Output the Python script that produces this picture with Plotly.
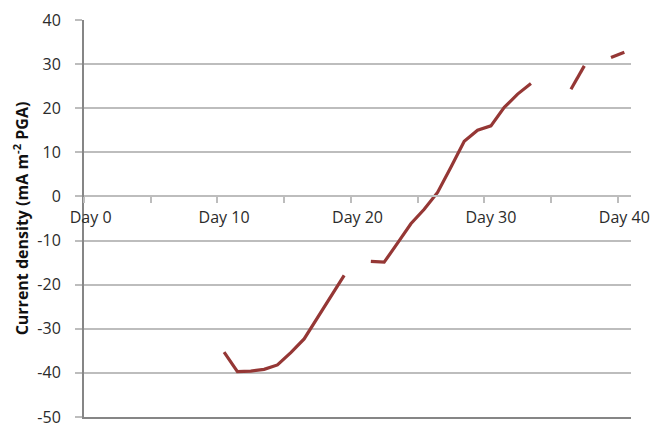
import plotly.graph_objects as go

# Measurement days and current density readings (None = no reading that day)
days = [10, 11, 12, 13, 14, 15, 16, 17, 18, 19,
        20,
        21, 22, 23, 24, 25, 26, 27, 28, 29, 30, 31, 32, 33,
        34, 35,
        36, 37,
        38,
        39, 40]
current_density = [-35.3, -39.7, -39.6, -39.2, -38.2, -35.4, -32.3, -27.4, -22.8, -17.9,
                   None,
                   -14.7, -14.9, -10.6, -6.2, -2.9, 0.9, 6.6, 12.5, 15.0, 16.0, 20.2, 23.2, 25.6,
                   None, None,
                   24.3, 29.6,
                   None,
                   31.5, 32.7]

day_ticks = [0, 10, 20, 30, 40]
day_labels = ["Day 0", "Day 10", "Day 20", "Day 30", "Day 40"]
y_ticks = [40, 30, 20, 10, 0, -10, -20, -30, -40, -50]
y_labels = ["40", "30", "20", "10", "0", "-10", "-20", "-30", "-40", "-50"]

FONT = "Open Sans"
GRID = "#bdbdbd"
AXIS = "#868686"
TEXT = "#2b2b2b"

y_min, y_max = -50, 40
y_range = [y_min, y_max]
x_range = [-0.5, 40.5]

fig = go.Figure()
fig.add_trace(go.Scatter(
    x=days, y=current_density, mode="lines",
    line=dict(color="#953735", width=3.2),
    connectgaps=False, showlegend=False, hoverinfo="skip",
))

fig.update_layout(
    width=654, height=427,
    margin=dict(l=84, r=23, t=20, b=10, autoexpand=False),
    paper_bgcolor="white", plot_bgcolor="white",
    font=dict(family=FONT, size=16, color=TEXT),
    showlegend=False,
    # bottom frame line of the plot area
    xaxis=dict(
        range=x_range, showgrid=False, zeroline=False,
        showticklabels=False, ticks="",
        showline=True, linecolor=AXIS, linewidth=2,
    ),
    # category-style day axis crossing at y = 0
    xaxis2=dict(
        overlaying="x", matches="x", range=x_range,
        anchor="free", position=(0 - y_range[0]) / (y_range[1] - y_range[0]),
        showgrid=False, zeroline=False,
        showline=True, linecolor=GRID, linewidth=1.5,
        tickmode="array", tickvals=day_ticks, ticktext=day_labels,
        ticks="", ticklabelstandoff=7,
        tickfont=dict(family=FONT, size=16, color=TEXT),
        minor=dict(tick0=-0.5, dtick=5, ticks="outside", ticklen=6,
                   tickcolor=GRID, tickwidth=1.5, showgrid=False),
    ),
    yaxis=dict(
        range=y_range, tickmode="array", tickvals=y_ticks, ticktext=y_labels,
        showgrid=True, gridcolor=GRID, gridwidth=1.5,
        zeroline=False, automargin=False,
        showline=True, linecolor=AXIS, linewidth=2,
        ticks="outside", ticklen=7, tickcolor=GRID, tickwidth=1.5,
        ticklabelstandoff=11, ticklabeloverflow="allow",
        tickfont=dict(family=FONT, size=16, color=TEXT),
        title=dict(
            text="<b>Current density (mA m<sup>-2</sup> PGA)</b>",
            font=dict(family=FONT, size=16, color="#111111"),
            standoff=5,
        ),
    ),
)

# empty trace so the crossing axis is rendered
fig.add_trace(go.Scatter(x=[], y=[], xaxis="x2", showlegend=False))

fig.write_html("out.html")
